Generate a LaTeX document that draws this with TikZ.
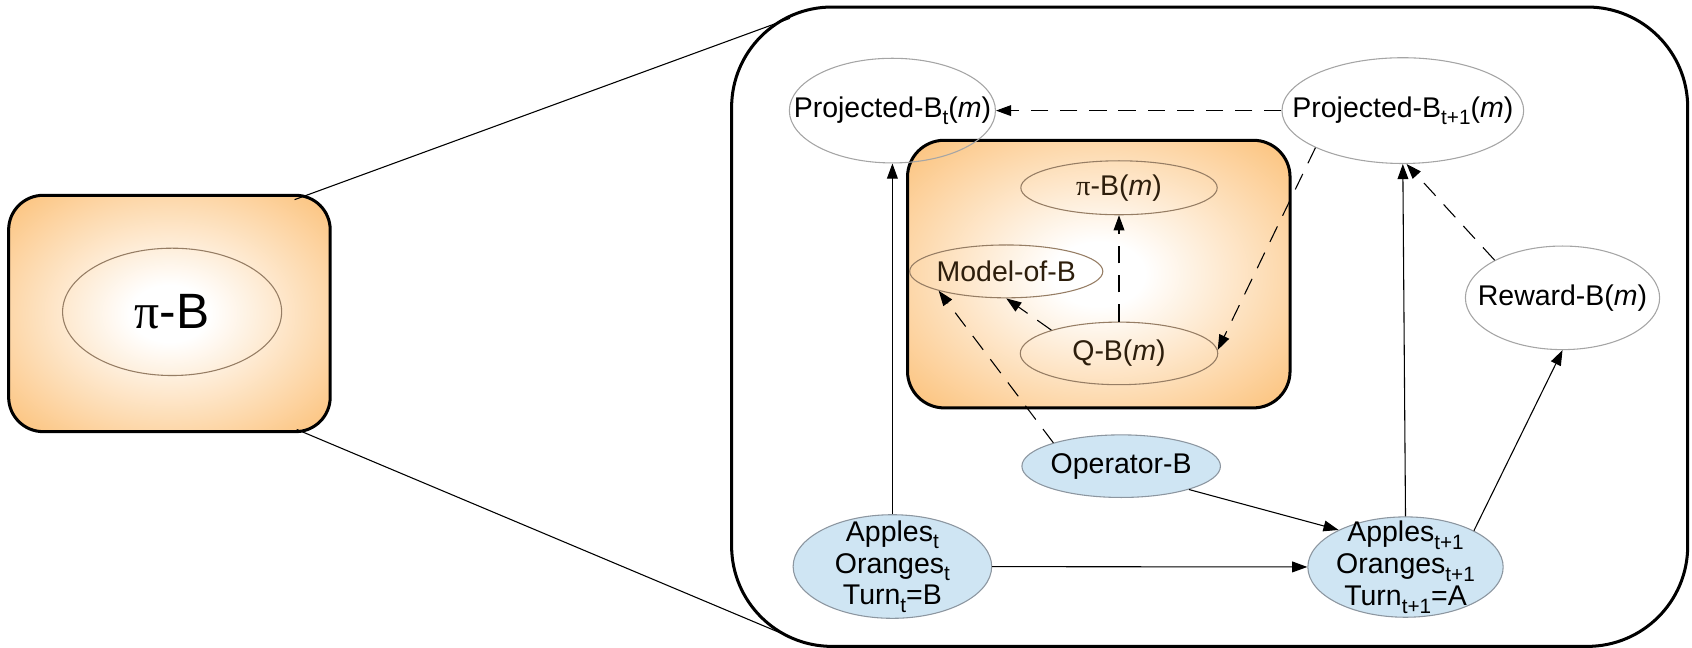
\documentclass[tikz,border=0pt]{standalone}
\usepackage{fontspec}
\setmainfont{Liberation Sans}
\newfontfamily\pifont{Liberation Serif}
\usetikzlibrary{arrows.meta,shapes.geometric}
\definecolor{orangeA}{RGB}{252,198,132}
\definecolor{blueF}{RGB}{207,229,243}
\definecolor{grayE}{RGB}{165,165,165}
\definecolor{grayB}{RGB}{140,150,160}
\definecolor{brownE}{RGB}{150,125,100}
\definecolor{brownT}{RGB}{45,30,12}
\newcommand\sbs[1]{\raisebox{-0.5ex}{\fontsize{9.6}{10}\selectfont #1}}
\pgfdeclareradialshading{glow}{\pgfpoint{0bp}{0bp}}{color(0bp)=(white); color(6bp)=(white); color(33bp)=(orangeA); color(75bp)=(orangeA)}
\begin{document}
\begin{tikzpicture}[x=0.5pt,y=-0.5pt,
  font=\fontsize{13.2}{14.8}\selectfont,
  ell/.style={ellipse, draw=grayE, line width=0.5pt, inner sep=0pt},
  oell/.style={ellipse, draw=brownE, line width=0.5pt, inner sep=0pt},
  bell/.style={ellipse, draw=grayB, fill=blueF, line width=0.5pt, inner sep=0pt},
  lbl/.style={inner sep=0pt, align=center},
  olbl/.style={lbl, text=brownT},
  obox/.style={draw=black, line width=1.4pt, shade, shading=glow, inner sep=0pt},
  conn/.style={draw=black, line width=0.5pt, -{Triangle[length=7pt,width=5pt]}},
  dconn/.style={conn, dash pattern=on 8pt off 5.5pt},
  zoomline/.style={draw=black, line width=0.5pt}
]
\useasboundingbox (0,0) rectangle (1568,600);

% left zoomed-out box
\node[obox, rounded corners=16pt, minimum width=149pt, minimum height=109.5pt] (lbox) at (157,290.5) {};
\node[oell, minimum width=101.5pt, minimum height=59pt] (lell) at (159.5,289) {};
\node[lbl, font=\fontsize{23}{26}\selectfont] (ltxt) at (lell) {{\pifont π}-B};

% big box
\draw[line width=1.4pt, rounded corners=46.5pt] (678,6.5) rectangle (1564,599);

% zoom lines
\coordinate (zt1) at (273,185);
\coordinate (zt2) at (732,17);
\coordinate (zb1) at (275,398);
\coordinate (zb2) at (741,594);
\draw[zoomline] (zt1) -- (zt2);
\draw[zoomline] (zb1) -- (zb2);

% inner orange box
\node[obox, rounded corners=17pt, minimum width=177.25pt, minimum height=124pt] (ibox) at (1018.25,254) {};
\node[oell, minimum width=91pt, minimum height=25pt] (pbm) at (1037,174) {};
\node[olbl] (pbmt) at (pbm) {{\pifont π}-B(\textit{m})};
\node[oell, minimum width=89.5pt, minimum height=24.5pt] (mob) at (932.5,251.5) {};
\node[olbl] (mobt) at (mob) {Model-of-B};
\node[oell, minimum width=91.5pt, minimum height=29pt] (qb) at (1037,327.5) {};
\node[olbl] (qbt) at (qb) {Q-B(\textit{m})};

% white ellipses
\node[ell, minimum width=95.5pt, minimum height=48.5pt] (pt0) at (827,102.5) {};
\node[lbl] (pt0t) at (pt0) {Projected-B\sbs{t}(\textit{m})};
\node[ell, minimum width=112pt, minimum height=49pt] (p1) at (1300,102.5) {};
\node[lbl] (p1t) at (p1) {Projected-B\sbs{t+1}(\textit{m})};
\node[ell, minimum width=90pt, minimum height=48pt] (rw) at (1448,276) {};
\node[lbl] (rwt) at (rw) {Reward-B(\textit{m})};

% blue ellipses
\node[bell, minimum width=92pt, minimum height=29pt] (op) at (1039,432) {};
\node[lbl] (opt) at (op) {Operator-B};
\node[bell, minimum width=92pt, minimum height=48pt] (at) at (827,525) {};
\node[lbl] (att) at (at) {Apples\sbs{t}\\Oranges\sbs{t}\\Turn\sbs{t}=B};
\node[bell, minimum width=90.5pt, minimum height=46.5pt] (a1) at (1302.5,525.5) {};
\node[lbl] (a1t) at (a1) {Apples\sbs{t+1}\\Oranges\sbs{t+1}\\Turn\sbs{t+1}=A};

% connectors
\draw[dconn] (p1) -- (pt0);
\draw[conn] (at.north) -- (pt0.south);
\draw[conn] (a1.north) -- (p1.south);
\draw[conn] (at) -- (a1);
\draw[conn] (op.-19) -- (a1.151);
\draw[conn] (a1.28) -- (rw.south);
\draw[dconn] (rw.151) -- (p1.-86);
\draw[dconn] (p1.203) -- (qb.2);
\draw[dconn] (qb.north) -- (pbm.south);
\draw[dconn] (qb.161) -- (mob.south);
\draw[dconn] (op.161) -- (mob.196);
\end{tikzpicture}
\end{document}
